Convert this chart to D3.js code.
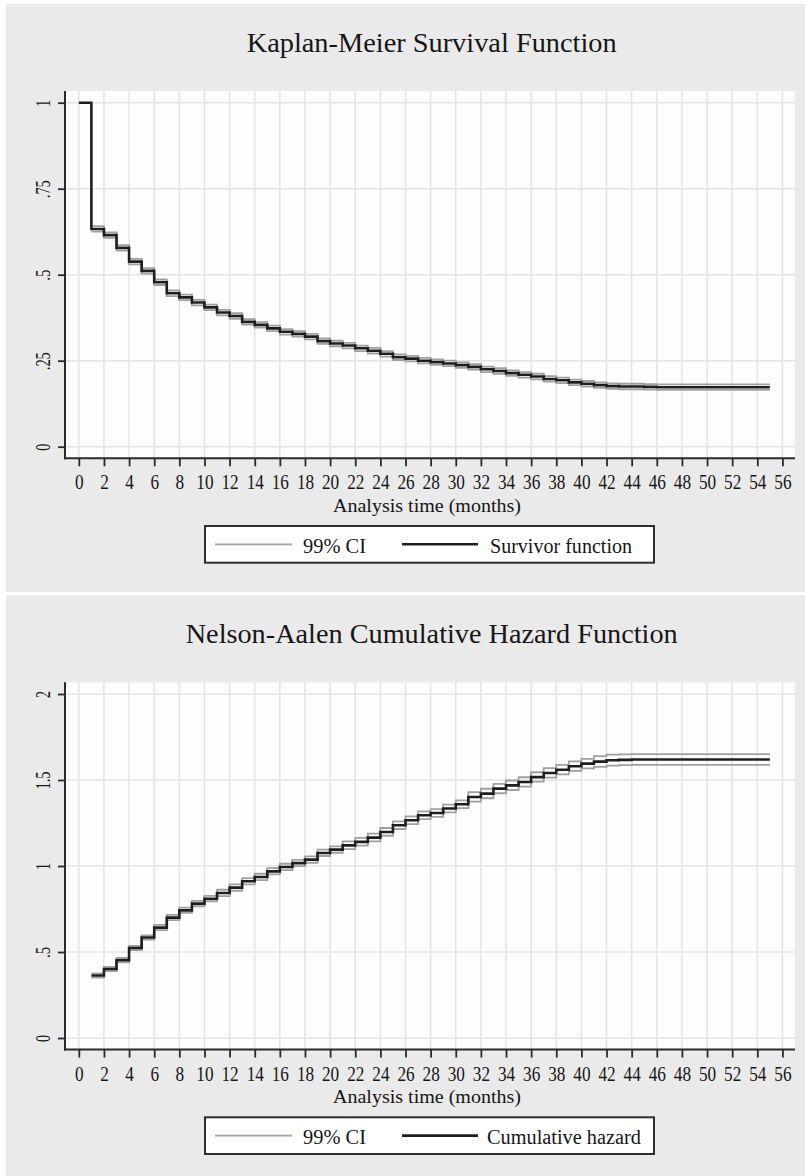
<!DOCTYPE html>
<html>
<head>
<meta charset="utf-8">
<script src="https://cdn.jsdelivr.net/npm/d3@7"></script>
<style>
  body { margin: 0; background: #fff; }
  svg { display: block; }
</style>
</head>
<body>
<svg id="chart" width="805" height="1176" font-family="Liberation Serif, Times New Roman, serif"></svg>
<script>
// months (analysis time)
var months = [0,1,2,3,4,5,6,7,8,9,10,11,12,13,14,15,16,17,18,19,20,21,22,23,24,25,26,27,
  28,29,30,31,32,33,34,35,36,37,38,39,40,41,42,43,44,45,46,47,48,49,50,51,52,53,54,55];
var xTicks = [0,2,4,6,8,10,12,14,16,18,20,22,24,26,28,30,32,34,36,38,40,42,44,46,48,50,52,54,56];

// Kaplan-Meier survivor function, t = 0..55
var kmSurv = [1, 0.633, 0.615, 0.578, 0.538, 0.511, 0.478, 0.446, 0.434, 0.419,
  0.405, 0.390, 0.380, 0.363, 0.354, 0.344, 0.334, 0.328, 0.320, 0.307,
  0.300, 0.294, 0.286, 0.279, 0.270, 0.260, 0.256, 0.250, 0.246, 0.242,
  0.237, 0.232, 0.225, 0.220, 0.214, 0.209, 0.204, 0.197, 0.193, 0.187,
  0.183, 0.179, 0.176, 0.175, 0.175, 0.174, 0.173, 0.173, 0.173, 0.173,
  0.173, 0.173, 0.173, 0.173, 0.173, 0.173];
// 99% CI, t = 1..55
var kmLow = [0.625, 0.607, 0.570, 0.530, 0.503, 0.470, 0.438, 0.426, 0.411,
  0.397, 0.382, 0.372, 0.355, 0.346, 0.336, 0.326, 0.320, 0.312, 0.299,
  0.292, 0.286, 0.278, 0.271, 0.262, 0.252, 0.248, 0.242, 0.238, 0.234,
  0.229, 0.224, 0.217, 0.212, 0.206, 0.201, 0.196, 0.189, 0.185, 0.179,
  0.175, 0.171, 0.168, 0.167, 0.167, 0.166, 0.165, 0.165, 0.165, 0.165,
  0.165, 0.165, 0.165, 0.165, 0.165, 0.165];
var kmHigh = [0.641, 0.623, 0.586, 0.546, 0.519, 0.486, 0.454, 0.442, 0.427,
  0.413, 0.398, 0.388, 0.371, 0.362, 0.352, 0.342, 0.336, 0.328, 0.315,
  0.308, 0.302, 0.294, 0.287, 0.278, 0.268, 0.264, 0.258, 0.254, 0.250,
  0.245, 0.240, 0.233, 0.228, 0.222, 0.217, 0.212, 0.205, 0.201, 0.195,
  0.191, 0.187, 0.184, 0.183, 0.183, 0.182, 0.181, 0.181, 0.181, 0.181,
  0.181, 0.181, 0.181, 0.181, 0.181, 0.181];

// Nelson-Aalen cumulative hazard, t = 1..55
var naHaz = [0.363, 0.401, 0.452, 0.523, 0.584, 0.642, 0.700, 0.742, 0.781,
  0.810, 0.843, 0.874, 0.911, 0.936, 0.969, 0.994, 1.017, 1.037, 1.076,
  1.095, 1.120, 1.140, 1.165, 1.198, 1.237, 1.266, 1.295, 1.308, 1.334,
  1.359, 1.401, 1.421, 1.450, 1.469, 1.488, 1.517, 1.541, 1.560, 1.580,
  1.595, 1.607, 1.615, 1.617, 1.619, 1.619, 1.619, 1.619, 1.619, 1.619,
  1.619, 1.619, 1.619, 1.619, 1.619, 1.619];
var naLow = [0.351, 0.389, 0.440, 0.511, 0.572, 0.627, 0.685, 0.727, 0.766,
  0.795, 0.825, 0.856, 0.893, 0.918, 0.951, 0.976, 0.999, 1.019, 1.058,
  1.077, 1.098, 1.118, 1.143, 1.176, 1.215, 1.244, 1.273, 1.286, 1.312,
  1.337, 1.374, 1.394, 1.423, 1.442, 1.461, 1.490, 1.514, 1.533, 1.553,
  1.568, 1.576, 1.584, 1.586, 1.588, 1.588, 1.588, 1.588, 1.588, 1.588,
  1.588, 1.588, 1.588, 1.588, 1.588, 1.588];
var naHigh = [0.376, 0.414, 0.465, 0.536, 0.597, 0.658, 0.716, 0.758, 0.797,
  0.826, 0.862, 0.893, 0.930, 0.955, 0.988, 1.013, 1.036, 1.056, 1.095,
  1.114, 1.143, 1.163, 1.188, 1.221, 1.260, 1.289, 1.318, 1.331, 1.357,
  1.382, 1.429, 1.449, 1.478, 1.497, 1.516, 1.545, 1.569, 1.588, 1.608,
  1.623, 1.639, 1.647, 1.649, 1.651, 1.651, 1.651, 1.651, 1.651, 1.651,
  1.651, 1.651, 1.651, 1.651, 1.651, 1.651];

var kmYTicks = [0, 0.25, 0.5, 0.75, 1];
var naYTicks = [0, 0.5, 1, 1.5, 2];

var svg = d3.select("#chart");
var FONT = "Liberation Serif, Times New Roman, serif";
var INK = "#161616";

var x = d3.scaleLinear().domain([-1.1, 57]).range([65, 795]);
var plotTop = 91, plotBottom = 458.3;

function fmt(d) {
  return d === 0 ? "0" : String(d).replace(/^0\./, ".");
}

// squeeze tick labels the way the original (condensed) font looks
function squeeze(sel, per) {
  sel.attr("textLength", function () { return this.textContent.replace(".", "").length * per + (this.textContent.indexOf(".") >= 0 ? 4 : 0); })
    .attr("lengthAdjust", "spacingAndGlyphs");
}

function drawPanel(offset, h, cfg) {
  var g = svg.append("g").attr("transform", "translate(0," + offset + ")");
  var y = d3.scaleLinear().domain(cfg.yDomain).range([446.7, 102.7]);

  g.append("rect").attr("x", 6).attr("y", 4).attr("width", 799).attr("height", h).attr("fill", "#eaeaea");
  g.append("rect").attr("x", 65).attr("y", plotTop).attr("width", 730).attr("height", plotBottom - plotTop)
    .attr("fill", "#fdfdfd");

  // grid
  g.selectAll(".vgrid").data(xTicks).enter().append("line")
    .attr("x1", d => x(d)).attr("x2", d => x(d))
    .attr("y1", plotTop).attr("y2", plotBottom)
    .attr("stroke", "#e4e4e4").attr("stroke-width", 1.5);
  g.selectAll(".hgrid").data(cfg.yTicks).enter().append("line")
    .attr("x1", 65).attr("x2", 795)
    .attr("y1", d => y(d)).attr("y2", d => y(d))
    .attr("stroke", "#e4e4e4").attr("stroke-width", 1.5);

  // title
  g.append("text").attr("x", 431.7).attr("y", 52).attr("text-anchor", "middle")
    .attr("font-size", 27).attr("fill", INK)
    .attr("textLength", cfg.titleLen).attr("lengthAdjust", "spacingAndGlyphs")
    .text(cfg.title);

  var line = d3.line().x(d => x(d[0])).y(d => y(d[1])).curve(d3.curveStepAfter);

  cfg.ci.forEach(function (s) {
    g.append("path").datum(d3.zip(cfg.ciTime, s))
      .attr("d", line).attr("fill", "none")
      .attr("stroke", "#a0a0a0").attr("stroke-width", 1.8);
  });
  g.append("path").datum(d3.zip(cfg.time, cfg.values))
    .attr("d", line).attr("fill", "none")
    .attr("stroke", "#1e1e1e").attr("stroke-width", 2.6);

  // x axis
  var xa = g.append("g").attr("transform", "translate(0," + plotBottom + ")")
    .call(d3.axisBottom(x).tickValues(xTicks).tickSize(8).tickSizeOuter(0));
  xa.attr("font-family", FONT);
  xa.select(".domain").remove();
  xa.selectAll(".tick line").attr("stroke", "#2a2a2a").attr("stroke-width", 1.8);
  xa.selectAll(".tick text").attr("y", 31).attr("dy", 0)
    .attr("font-size", 20).attr("fill", INK)
    .call(squeeze, 8.6);

  // y axis
  var ya = g.append("g").attr("transform", "translate(65,0)")
    .call(d3.axisLeft(y).tickValues(cfg.yTicks).tickSize(7).tickFormat(fmt));
  ya.attr("font-family", FONT);
  ya.select(".domain").remove();
  ya.selectAll(".tick line").attr("stroke", "#2a2a2a").attr("stroke-width", 1.8);
  ya.selectAll(".tick text").attr("x", null).attr("dy", 0).attr("y", 0)
    .attr("text-anchor", "middle")
    .attr("font-size", 21).attr("fill", INK)
    .attr("transform", "translate(-15.5,0) rotate(-90)")
    .call(squeeze, 7);

  g.append("line").attr("x1", 65).attr("x2", 65).attr("y1", plotTop).attr("y2", plotBottom + 1)
    .attr("stroke", "#2a2a2a").attr("stroke-width", 2);
  g.append("line").attr("x1", 64).attr("x2", 795).attr("y1", plotBottom).attr("y2", plotBottom)
    .attr("stroke", "#2a2a2a").attr("stroke-width", 2);

  g.append("text").attr("x", 427).attr("y", 512).attr("text-anchor", "middle")
    .attr("font-size", 19).attr("fill", INK)
    .attr("textLength", 188).attr("lengthAdjust", "spacingAndGlyphs")
    .text("Analysis time (months)");

  // legend
  g.append("rect").attr("x", 205).attr("y", 526).attr("width", 449).attr("height", 36.7)
    .attr("fill", "#fff").attr("stroke", "#2e2e2e").attr("stroke-width", 2);
  g.append("line").attr("x1", 215).attr("x2", 292).attr("y1", 544.3).attr("y2", 544.3)
    .attr("stroke", "#a0a0a0").attr("stroke-width", 1.8);
  g.append("line").attr("x1", 402).attr("x2", 478).attr("y1", 544.3).attr("y2", 544.3)
    .attr("stroke", "#1e1e1e").attr("stroke-width", 2.6);
  g.append("text").attr("x", 303).attr("y", 552.7).attr("font-size", 20).attr("fill", INK)
    .attr("textLength", 63).attr("lengthAdjust", "spacingAndGlyphs").text("99% CI");
  g.append("text").attr("x", cfg.legX).attr("y", 552.7).attr("font-size", 20).attr("fill", INK)
    .attr("textLength", cfg.legLen).attr("lengthAdjust", "spacingAndGlyphs").text(cfg.legend);
}

drawPanel(0, 588, {
  title: "Kaplan-Meier Survival Function", titleLen: 370,
  yDomain: [0, 1], yTicks: kmYTicks,
  time: months, values: kmSurv,
  ciTime: months.slice(1), ci: [kmLow, kmHigh],
  legend: "Survivor function", legX: 490, legLen: 142
});

drawPanel(591.3, 585, {
  title: "Nelson-Aalen Cumulative Hazard Function", titleLen: 492,
  yDomain: [0, 2], yTicks: naYTicks,
  time: months.slice(1), values: naHaz,
  ciTime: months.slice(1), ci: [naLow, naHigh],
  legend: "Cumulative hazard", legX: 487, legLen: 154
});
</script>
</body>
</html>
